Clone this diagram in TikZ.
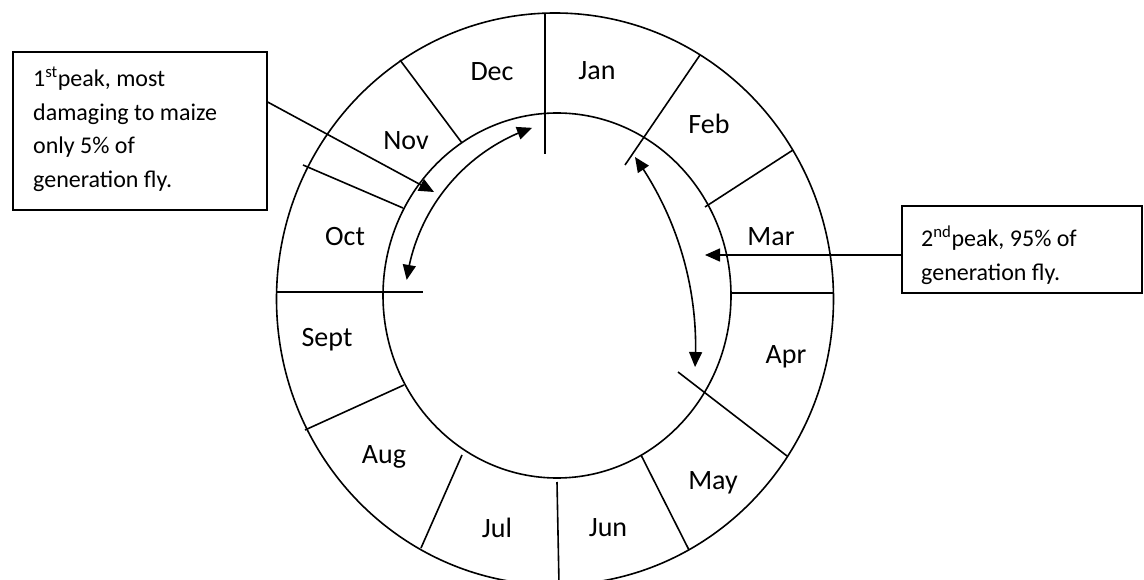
\documentclass[tikz,border=0pt]{standalone}
\usepackage{fontspec}
\setmainfont{Carlito}
\usetikzlibrary{arrows.meta,bending,calc}
\begin{document}
\begin{tikzpicture}[x=1pt,y=-1pt,
  ln/.style={line width=1.6pt, black},
  arrowtip/.style={-{Triangle[length=15pt,width=13pt]}},
  twotips/.style={{Triangle[length=15pt,width=13pt]}-{Triangle[length=15pt,width=13pt]}},
  month/.style={font=\fontsize{28}{34}\selectfont, inner sep=0pt},
  frame/.style={draw, line width=1.6pt, inner sep=0pt, anchor=north west},
  btext/.style={font=\fontsize{24}{33.5}\selectfont, inner sep=0pt, anchor=north west, align=left}
]
\useasboundingbox (0,0) rectangle (1144,580);
\fill[white] (0,0) rectangle (1144,580);

% rings
\draw[ln] (555,299) ellipse [x radius=278.5, y radius=286];
\draw[ln] (557,295.5) ellipse [x radius=174, y radius=182.5];

% month dividers
\draw[ln] (545,13) -- (545,154);
\draw[ln] (700,55) -- (625,165);
\draw[ln] (793,150) -- (705,207);
\draw[ln] (732,293) -- (833,293);
\draw[ln] (678,372) -- (787,456);
\draw[ln] (641,455) -- (689,550);
\draw[ln] (557,482) -- (559,584);
\draw[ln] (462,455) -- (421,548);
\draw[ln] (305,430) -- (404,385);
\draw[ln] (277,292) -- (423,292);
\draw[ln] (303,165) -- (403,208);
\draw[ln] (400,60) -- (462,143);

% month labels
\node[month] (jan) at (597,71) {Jan};
\node[month] (feb) at (709,124) {Feb};
\node[month] (mar) at (771,237) {Mar};
\node[month] (apr) at (786,357) {Apr};
\node[month] (may) at (713,483) {May};
\node[month] (jun) at (608,528) {Jun};
\node[month] (jul) at (497,528) {Jul};
\node[month] (aug) at (384,457) {Aug};
\node[month] (sep) at (327,340) {Sept};
\node[month] (oct) at (345,237) {Oct};
\node[month] (nov) at (406,141) {Nov};
\node[month] (dec) at (492,72) {Dec};

% boxes
\node[frame, minimum width=254pt, minimum height=158pt] (b1) at (12,51) {};
\node[btext] (t1) at (33,67) {1\textsuperscript{st}peak, most\\damaging to maize\\only 5\% of\\generation fly.};
\node[frame, minimum width=240pt, minimum height=87pt] (b2) at (901,205) {};
\node[btext] (t2) at (921,226) {2\textsuperscript{nd}peak, 95\% of\\generation fly.};

% pointers
\coordinate (tip1) at (434,192);
\draw[ln,arrowtip] ([yshift=-51pt]b1.north east) -- (tip1);
\coordinate (tip2) at (705,255);
\draw[ln,arrowtip] ([yshift=-50pt]b2.north west) -- (tip2);

% double-headed arcs
\coordinate (a1s) at (406.7,279.9);
\draw[ln,twotips] (a1s) arc[start angle=187.7, end angle=251.3, radius=187];
\coordinate (a2s) at (635,157);
\draw[ln,twotips] (a2s) arc[start angle=-35.4, end angle=3.5, radius=328];
\end{tikzpicture}
\end{document}
